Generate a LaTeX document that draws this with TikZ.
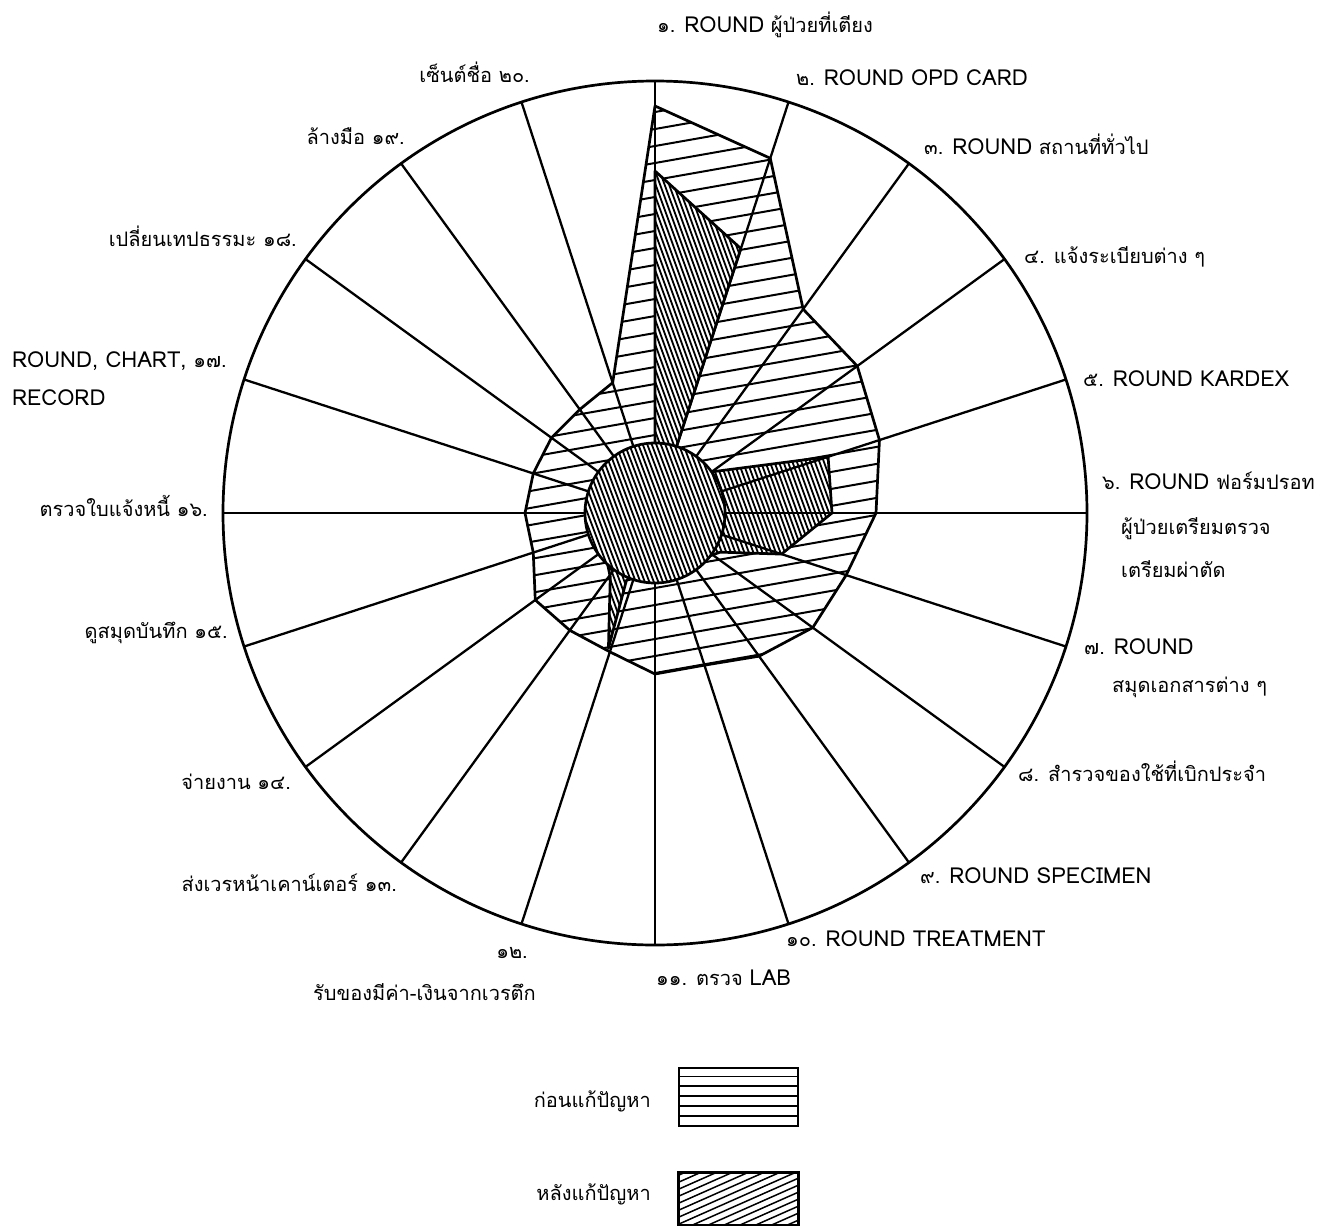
\documentclass[tikz,border=0pt]{standalone}
\usepackage{fontspec}
\setmainfont[Script=Thai]{Loma}
\newcommand{\lt}[1]{{\fontsize{22}{24}\selectfont #1}}
\begin{document}
\begin{tikzpicture}[x=1pt,y=-1pt,
  lbl/.style={font=\fontsize{20}{24}\selectfont, inner sep=0pt, text height=14pt, text depth=0pt},
  lblR/.style={lbl, anchor=west},
  lblL/.style={lbl, anchor=east},
  spokeline/.style={line width=2.3pt},
  outline/.style={line width=2.7pt, line join=round},
  bhatch/.style={line width=2pt},
  ahatch/.style={line width=1.8pt},
  ring/.style={line width=2.7pt}]
\useasboundingbox (0,0) rectangle (1336,1226);
\fill[white] (0,0) rectangle (1336,1226);

\def\bpoly{(-90:407) -- (-72:373) -- (-54:252) -- (-36:250) -- (-18:236) -- (0:221) -- (18:201) -- (36:195) -- (54:177) -- (72:160) -- (90:161) -- (108:146) -- (126:145) -- (144:148) -- (162:128) -- (180:130) -- (198:128) -- (216:128) -- (234:128) -- (252:137) -- cycle}
\def\apoly{(-90:60) -- (-90:342) -- (-72:278) -- (-72:62) -- (-36:70) -- (-18:182) -- (0:177) -- (18:133) -- (31:76) -- (60:60) -- (90:60) -- (113:73) -- (109:143) -- (125:78) -- (150:60) -- (210:60) -- (260:60) -- cycle}

\begin{scope}[shift={(655,513)}]
  % before region
  \fill[white] \bpoly;
  \begin{scope}
    \clip \bpoly;
    \foreach \c in {-520,-503,...,540} {
      \draw[bhatch] (-440,\c+77.6) -- (440,\c-77.6);
    }
  \end{scope}
  \draw[outline] \bpoly;
  % after region
  \fill[white] \apoly;
  \begin{scope}
    \clip \apoly;
    \foreach \c in {-600,-595.5,...,600} {
      \draw[ahatch] (\c-160,-440) -- (\c+160,440);
    }
  \end{scope}
  \draw[outline] \apoly;
  % inner circle
  \fill[white] (0,0) circle[radius=70];
  \begin{scope}
    \clip (0,0) circle[radius=70];
    \foreach \c in {-180,-175.5,...,180} {
      \draw[ahatch] (\c-30,-80) -- (\c+30,80);
    }
  \end{scope}
  % spokes
  \foreach \a in {-90,-72,...,252} {
    \draw[spokeline] (\a:70) -- (\a:432);
  }
  \draw[ring] (0,0) circle[radius=70];
  \draw[ring] (0,0) circle[radius=432];
\end{scope}

% labels right side
\node[lblR] (l1) at (657,25) {๑. \lt{ROUND} ผู้ป่วยที่เตียง};
\node[lblR] (l2) at (796,78) {๒. \lt{ROUND OPD CARD}};
\node[lblR] (l3) at (924,147) {๓. \lt{ROUND} สถานที่ทั่วไป};
\node[lblR] (l4) at (1024,256) {๔. แจ้งระเบียบต่าง ๆ};
\node[lblR] (l5) at (1083,379) {๕. \lt{ROUND KARDEX}};
\node[lblR] (l6a) at (1102,482) {๖. \lt{ROUND} ฟอร์มปรอท};
\node[lblR] (l6b) at (1121,527) {ผู้ป่วยเตรียมตรวจ};
\node[lblR] (l6c) at (1121,570) {เตรียมผ่าตัด};
\node[lblR] (l7a) at (1084,647) {๗. \lt{ROUND}};
\node[lblR] (l7b) at (1112,685) {สมุดเอกสารต่าง ๆ};
\node[lblR] (l8) at (1018,774) {๘. สำรวจของใช้ที่เบิกประจำ};
\node[lblR] (l9) at (920,876) {๙. \lt{ROUND SPECIMEN}};
\node[lblR] (l10) at (786,939) {๑๐. \lt{ROUND TREATMENT}};
\node[lblR] (l11) at (656,978) {๑๑. ตรวจ \lt{LAB}};
% labels left side
\node[lblL] (l12a) at (528,951) {๑๒.};
\node[lblL] (l12b) at (536,993) {รับของมีค่า-เงินจากเวรตึก};
\node[lblL] (l13) at (397,884) {ส่งเวรหน้าเคาน์เตอร์ ๑๓.};
\node[lblL] (l14) at (291,782) {จ่ายงาน ๑๔.};
\node[lblL] (l15) at (228,631) {ดูสมุดบันทึก ๑๕.};
\node[lblL] (l16) at (208,509) {ตรวจใบแจ้งหนี้ ๑๖.};
\node[lblR] (l17a) at (12,360) {\lt{ROUND, CHART,} ๑๗.};
\node[lblR] (l17b) at (12,398) {\lt{RECORD}};
\node[lblL] (l18) at (297,239) {เปลี่ยนเทปธรรมะ ๑๘.};
\node[lblL] (l19) at (405,137) {ล้างมือ ๑๙.};
\node[lblL] (l20) at (530,75) {เซ็นต์ชื่อ ๒๐.};

% legend
\node[lblL] (lgb) at (651,1100) {ก่อนแก้ปัญหา};
\node[lblL] (lga) at (651,1193) {หลังแก้ปัญหา};
\node[draw, line width=2.3pt, minimum width=119pt, minimum height=58pt, inner sep=0pt, anchor=north west] (boxb) at (678,1067) {};
\foreach \yy in {1076.5,1086,1096,1106,1116} {
  \draw[line width=1.6pt] (boxb.west |- 0,\yy) -- (boxb.east |- 0,\yy);
}
\node[draw, line width=2.3pt, minimum width=119pt, minimum height=52pt, inner sep=0pt, anchor=north west] (boxa) at (678,1172) {};
\begin{scope}
  \clip (boxa.south west) rectangle (boxa.north east);
  \foreach \c in {1165,1172,...,1300} {
    \draw[line width=1.5pt] (670,\c) -- (810,\c-62);
  }
\end{scope}
\draw[line width=2.3pt] (boxa.south west) rectangle (boxa.north east);
\end{tikzpicture}
\end{document}
